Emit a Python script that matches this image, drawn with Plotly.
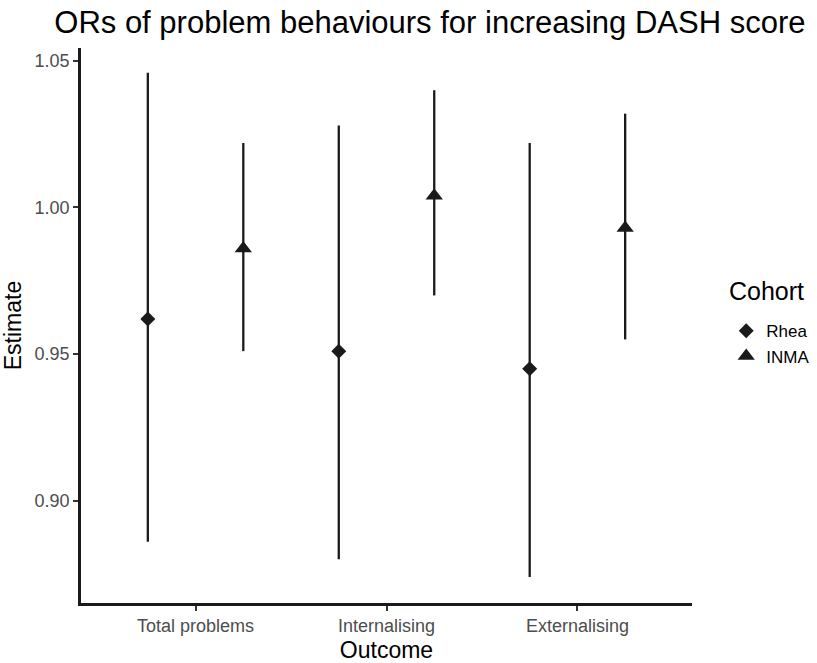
import plotly.graph_objects as go

# Outcomes and cohort estimates with 95% CI
outcomes = ["Total problems", "Internalising", "Externalising"]
cohorts = ["Rhea", "INMA"]

rhea_est = [0.962, 0.951, 0.945]
rhea_low = [0.886, 0.880, 0.874]
rhea_high = [1.046, 1.028, 1.022]

inma_est = [0.986, 1.004, 0.993]
inma_low = [0.951, 0.970, 0.955]
inma_high = [1.022, 1.040, 1.032]

y_ticks = [0.90, 0.95, 1.00, 1.05]

dodge = 0.25
ink = "#1a1a1a"
font_family = "Liberation Sans, Arial, sans-serif"

fig = go.Figure()

series = [
    ("Rhea", rhea_est, rhea_low, rhea_high, -dodge, "diamond", 11.5),
    ("INMA", inma_est, inma_low, inma_high, dodge, "triangle-up", 15),
]

for name, est, low, high, off, symbol, size in series:
    xs = [i + 1 + off for i in range(len(outcomes))]
    fig.add_trace(go.Scatter(
        x=xs, y=est, mode="markers", name=name,
        marker=dict(symbol=symbol, size=size, color=ink, line=dict(width=0)),
        error_y=dict(
            type="data", symmetric=False,
            array=[h - e for h, e in zip(high, est)],
            arrayminus=[e - l for e, l in zip(est, low)],
            color=ink, thickness=2.3, width=0,
        ),
    ))

fig.update_layout(
    width=817, height=663,
    margin=dict(l=81, r=125, t=48, b=60, autoexpand=False),
    paper_bgcolor="white", plot_bgcolor="white",
    font=dict(family=font_family, color="#000000"),
    title=dict(
        text="ORs of problem behaviours for increasing DASH score",
        x=0.571, xref="paper", xanchor="center",
        y=0.966, yref="container", yanchor="middle",
        font=dict(size=31, color="#000000"),
    ),
    xaxis=dict(
        range=[0.4, 3.6], tickvals=[1, 2, 3], ticktext=outcomes,
        showgrid=False, zeroline=False,
        showline=True, linecolor=ink, linewidth=2.5,
        ticks="outside", ticklen=5, tickwidth=2, tickcolor="#333333",
        tickfont=dict(size=18, color="#4d4d4d"),
        title=dict(text="Outcome", font=dict(size=23, color="#000000"), standoff=10),
    ),
    yaxis=dict(
        range=[0.8651, 1.0544], tickvals=y_ticks,
        ticktext=[f"{v:.2f}" for v in y_ticks],
        showgrid=False, zeroline=False,
        showline=True, linecolor=ink, linewidth=2.5,
        ticks="outside", ticklen=5, tickwidth=2, tickcolor="#333333",
        tickfont=dict(size=18, color="#4d4d4d"),
        title=dict(text="Estimate", font=dict(size=23, color="#000000"), standoff=9),
    ),
    legend=dict(
        x=1.056, y=0.522, xanchor="left", yanchor="top",
        font=dict(size=17, color="#000000"),
        bgcolor="rgba(0,0,0,0)", itemwidth=30, tracegroupgap=0,
    ),
    annotations=[dict(
        text="Cohort", xref="paper", yref="paper",
        x=1.057, y=(603 - 291) / 555, xanchor="left", yanchor="middle",
        showarrow=False, font=dict(size=25, color="#000000"),
    )],
)

fig.write_html("out.html")
